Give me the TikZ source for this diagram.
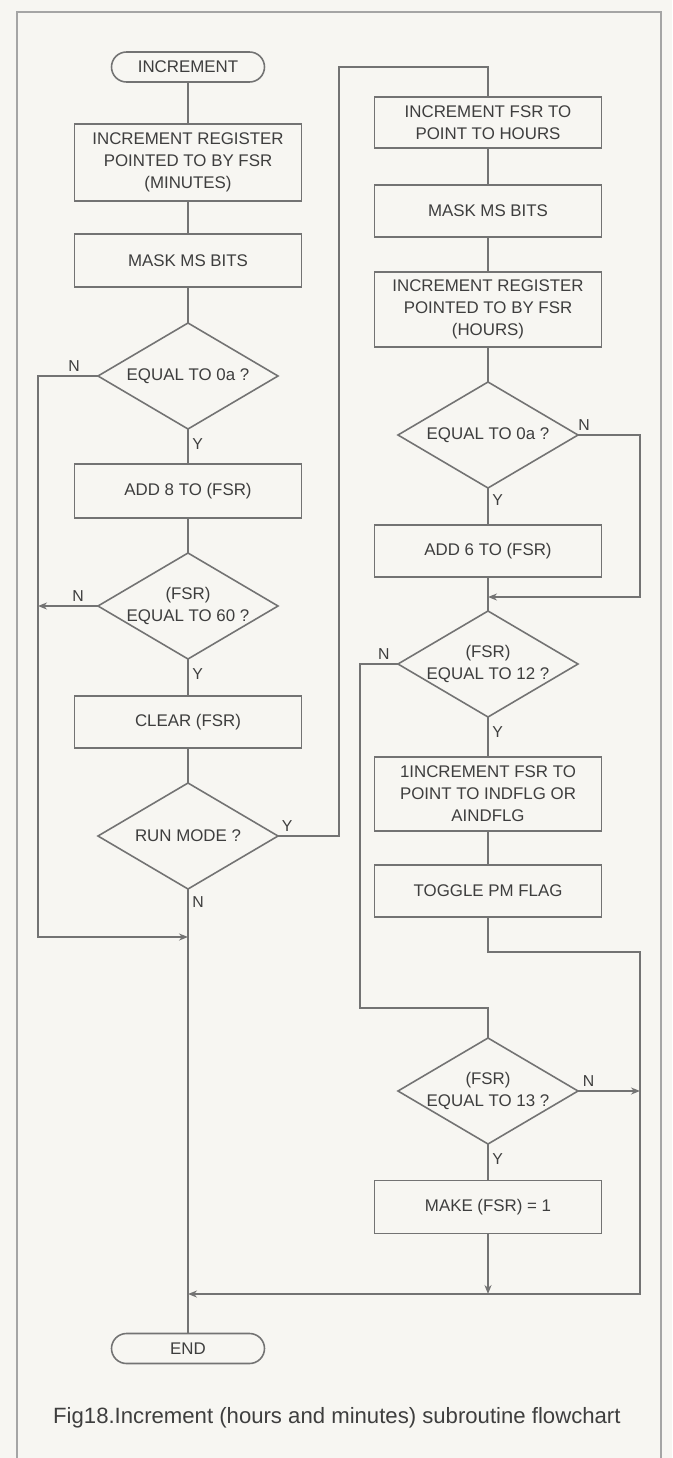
\documentclass[tikz,border=0pt]{standalone}
\usepackage{fontspec}
\setmainfont{Liberation Sans}
\usepackage{xcolor}
\usepackage{tikz}
\usetikzlibrary{shapes.geometric, arrows.meta, positioning}
\definecolor{paper}{RGB}{247,246,242}
\definecolor{inkgray}{RGB}{115,115,115}
\definecolor{textgray}{RGB}{62,62,62}
\definecolor{framegray}{RGB}{165,165,165}
\tikzset{
    procbox/.style={rectangle, draw=inkgray, line width=0.9pt, text=textgray,
                  align=center, minimum width=4.54cm, inner sep=2pt, outer sep=0pt,
                  font=\fontsize{9.6}{12.5}\selectfont},
    testbox/.style={diamond, draw=inkgray, line width=0.9pt, text=textgray,
                  align=center, aspect=1.7, minimum width=3.6cm, minimum height=2.12cm,
                  inner sep=-4pt, outer sep=0pt, font=\fontsize{9.6}{12.5}\selectfont},
    termbox/.style={rectangle, rounded corners=0.3cm, draw=inkgray, line width=0.9pt,
                  text=textgray, minimum width=3.06cm, minimum height=0.6cm, outer sep=0pt,
                  font=\fontsize{9.6}{12.5}\selectfont},
    flow/.style={draw=inkgray, line width=0.9pt},
    flowarrow/.style={flow, -{Stealth[length=1.8mm, width=1.4mm]}},
    yn/.style={text=textgray, font=\fontsize{9}{10}\selectfont, inner sep=2pt}
}
\begin{document}
\begin{tikzpicture}
    \path[use as bounding box, fill=paper] (0,0) rectangle (13.44,-29.16);
    \draw[framegray, line width=0.8pt] (0.34,-29.16) -- (0.34,-0.24) -- (13.22,-0.24) -- (13.22,-29.16);

    % minutes column
    \node[termbox] (start) at (3.76,-1.34) {INCREMENT};
    \node[procbox, minimum height=1.54cm, below=0.84cm of start] (incmin) {INCREMENT REGISTER\\POINTED TO BY FSR\\(MINUTES)};
    \node[procbox, minimum height=1.06cm, below=0.66cm of incmin] (maskmin) {MASK MS BITS};
    \node[testbox, below=0.72cm of maskmin] (eqa) {EQUAL TO 0a ?};
    \node[procbox, minimum height=1.08cm, below=0.70cm of eqa] (add8) {ADD 8 TO (FSR)};
    \node[testbox, below=0.70cm of add8] (eq60) {(FSR)\\EQUAL TO 60 ?};
    \node[procbox, minimum height=1.04cm, below=0.74cm of eq60] (clr) {CLEAR (FSR)};
    \node[testbox, below=0.70cm of clr] (run) {RUN MODE ?};
    \node[termbox, below=8.89cm of run] (stop) {END};

    % hours column
    \node[procbox, minimum height=1.02cm] (inchr) at (9.76,-2.45) {INCREMENT FSR TO\\POINT TO HOURS};
    \node[procbox, minimum height=1.04cm, below=0.74cm of inchr] (maskhr) {MASK MS BITS};
    \node[procbox, minimum height=1.50cm, below=0.70cm of maskhr] (reghr) {INCREMENT REGISTER\\POINTED TO BY FSR\\(HOURS)};
    \node[testbox, below=0.70cm of reghr] (eqb) {EQUAL TO 0a ?};
    \node[procbox, minimum height=1.04cm, below=0.74cm of eqb] (add6) {ADD 6 TO (FSR)};
    \node[testbox, below=0.68cm of add6] (eq12) {(FSR)\\EQUAL TO 12 ?};
    \node[procbox, minimum height=1.48cm, below=0.80cm of eq12] (ptrhr) {1INCREMENT FSR TO\\POINT TO INDFLG OR\\AINDFLG};
    \node[procbox, minimum height=1.04cm, below=0.68cm of ptrhr] (pmflag) {TOGGLE PM FLAG};
    \node[testbox, below=2.42cm of pmflag] (eq13) {(FSR)\\EQUAL TO 13 ?};
    \node[procbox, minimum height=1.06cm, below=0.73cm of eq13] (make) {MAKE (FSR) = 1};

    \node[anchor=west, text=textgray, font=\fontsize{12.6}{14}\selectfont] (caption) at (0.94,-28.36) {Fig18.Increment (hours and minutes) subroutine flowchart};

    \coordinate (leftrail) at (0.76,-18.74);
    \coordinate (joinmin) at (3.76,-18.74);
    \coordinate (joinend) at (3.76,-25.88);
    \coordinate (runrail) at (6.78,-1.34);
    \coordinate (joinhr) at (9.76,-11.94);
    \coordinate (hrrail) at (12.80,-19.04);
    \coordinate (nrail) at (7.20,-20.16);

    \draw[flow] (start) -- (incmin);
    \draw[flow] (incmin) -- (maskmin);
    \draw[flow] (maskmin) -- (eqa);
    \draw[flow] (eqa) -- node[yn, right, pos=0.43]{Y} (add8);
    \draw[flow] (add8) -- (eq60);
    \draw[flow] (eq60) -- node[yn, right, pos=0.4]{Y} (clr);
    \draw[flow] (clr) -- (run);
    \draw[flow] (run) -- node[yn, right, pos=0.03]{N} (stop);
    \draw[flowarrow] (eqa.west) -- node[yn, above, pos=0.4]{N} (eqa.west -| leftrail) -- (leftrail) -- (joinmin);
    \draw[flowarrow] (eq60.west) -- node[yn, above, pos=0.33]{N} (eq60.west -| leftrail);
    \draw[flow] (run.east) -- node[yn, above, pos=0.15]{Y} (run.east -| runrail) -- (runrail) -| (inchr.north);

    \draw[flow] (inchr) -- (maskhr);
    \draw[flow] (maskhr) -- (reghr);
    \draw[flow] (reghr) -- (eqb);
    \draw[flow] (eqb) -- node[yn, right, pos=0.33]{Y} (add6);
    \draw[flow] (add6) -- (eq12);
    \draw[flowarrow] (eqb.east) -- node[yn, above, pos=0.1]{N} (eqb.east -| hrrail) -- (hrrail |- joinhr) -- (joinhr);
    \draw[flow] (eq12) -- node[yn, right, pos=0.37]{Y} (ptrhr);
    \draw[flow] (eq12.west) -- node[yn, above, pos=0.37]{N} (eq12.west -| nrail) -- (nrail) -| (eq13.north);
    \draw[flow] (ptrhr) -- (pmflag);
    \draw[flowarrow] (pmflag.south) |- (hrrail) |- (joinend);
    \draw[flowarrow] (eq13.east) -- node[yn, above, pos=0.17]{N} (eq13.east -| hrrail);
    \draw[flow] (eq13) -- node[yn, right, pos=0.41]{Y} (make);
    \draw[flowarrow] (make) -- (make |- joinend);
\end{tikzpicture}
\end{document}
